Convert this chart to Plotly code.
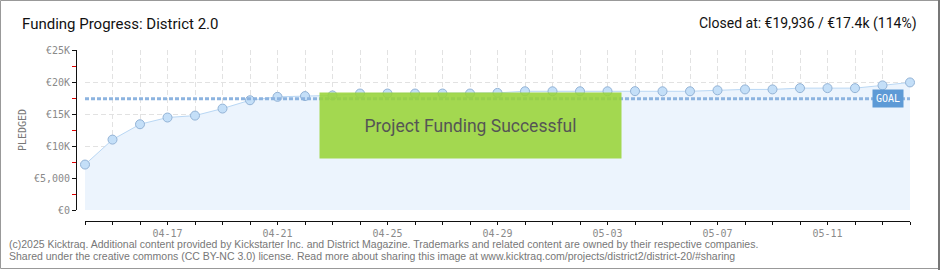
import plotly.graph_objects as go

# ---------------- data ----------------
dates = ["2025-04-14", "2025-04-15", "2025-04-16", "2025-04-17", "2025-04-18",
         "2025-04-19", "2025-04-20", "2025-04-21", "2025-04-22", "2025-04-23",
         "2025-04-24", "2025-04-25", "2025-04-26", "2025-04-27", "2025-04-28",
         "2025-04-29", "2025-04-30", "2025-05-01", "2025-05-02", "2025-05-03",
         "2025-05-04", "2025-05-05", "2025-05-06", "2025-05-07", "2025-05-08",
         "2025-05-09", "2025-05-10", "2025-05-11", "2025-05-12", "2025-05-13",
         "2025-05-14"]
pledged = [7100, 11000, 13400, 14450, 14750, 15850, 17150, 17680, 17800, 17900,
           18200, 18200, 18200, 18200, 18200, 18300, 18550, 18550, 18550, 18550,
           18570, 18550, 18550, 18700, 18840, 18840, 19040, 19040, 19040, 19470,
           19936]
goal = 17400
goal_dates = [dates[0], dates[-1]]
y_tickvals = [0, 5000, 10000, 15000, 20000, 25000]
y_ticktext = ["€0", "€5,000", "€10K", "€15K", "€20K", "€25K"]
x_tick0 = "2025-04-17"

title_left = "Funding Progress: District 2.0"
title_right = "Closed at: €19,936 / €17.4k (114%)"
banner_text = "Project Funding Successful"
footer1 = ("(c)2025 Kicktraq. Additional content provided by Kickstarter Inc. and District Magazine. "
           "Trademarks and related content are owned by their respective companies.")
footer2 = ("Shared under the creative commons (CC BY-NC 3.0) license. Read more about sharing this "
           "image at www.kicktraq.com/projects/district2/district-20/#sharing")

# ---------------- layout geometry ----------------
W, H = 940, 270
ML, MR, MT, MB = 76, 30, 50, 49
PW = W - ML - MR
PH = H - MT - MB

TITLE_FONT = "Roboto, sans-serif"
PIX_FONT = "DejaVu Sans Mono, monospace"

fig = go.Figure()

fig.add_trace(go.Scatter(
    x=dates, y=pledged, mode="lines+markers",
    fill="tozeroy", fillcolor="#ecf4fd",
    line=dict(color="#b9d7f4", width=1),
    marker=dict(size=9, color="#c4dff8", line=dict(color="#93b3d6", width=1)),
    cliponaxis=False, hoverinfo="skip", showlegend=False,
))

fig.add_trace(go.Scatter(
    x=goal_dates, y=[goal, goal], mode="lines",
    line=dict(color="#8db4e0", width=3, dash="4px,2px"),
    hoverinfo="skip", showlegend=False,
))

grid_col = "#e2e2e2"
fig.update_layout(
    width=W, height=H,
    margin=dict(l=ML, r=MR, t=MT, b=MB),
    paper_bgcolor="white", plot_bgcolor="white",
    xaxis=dict(
        type="date",
        range=[dates[0], dates[-1]],
        domain=[9 / PW, 1],
        anchor="free", position=0,
        tick0=x_tick0, dtick=4 * 86400000, tickformat="%m-%d",
        showline=True, linecolor="#111", linewidth=1,
        ticks="outside", ticklen=3, tickcolor="#111",
        tickfont=dict(family=PIX_FONT, size=10, color="#8a8a8a"),
        showgrid=True, gridcolor=grid_col, griddash="5px,3px", gridwidth=1,
        minor=dict(dtick=86400000, tick0=dates[0], ticks="outside", ticklen=3,
                   tickcolor="#111", showgrid=True, gridcolor=grid_col,
                   griddash="5px,3px"),
        zeroline=False,
    ),
    yaxis=dict(
        range=[0, 25000],
        domain=[11 / PH, 1],
        anchor="free", position=0,
        tickvals=y_tickvals, ticktext=y_ticktext,
        showline=True, linecolor="#111", linewidth=1,
        ticks="outside", ticklen=4, tickcolor="#111",
        tickfont=dict(family=PIX_FONT, size=10, color="#8a8a8a"),
        showgrid=True, gridcolor=grid_col, griddash="5px,3px",
        minor=dict(dtick=2500, tick0=0, ticks="outside", ticklen=4,
                   tickcolor="#e00000", showgrid=False),
        zeroline=False,
    ),
)

def px_x(px):
    return (px - ML) / PW

def px_y(py):
    return (H - MB - py) / PH

# Titles
fig.add_annotation(text=title_left, x=px_x(20), y=px_y(24), xref="paper", yref="paper",
                   xanchor="left", yanchor="middle", showarrow=False,
                   font=dict(family=TITLE_FONT, size=15, color="#111"))
fig.add_annotation(text=title_right, x=px_x(919), y=px_y(24), xref="paper", yref="paper",
                   xanchor="right", yanchor="middle", showarrow=False,
                   font=dict(family=TITLE_FONT, size=14, color="#111"))
# Y axis title
fig.add_annotation(text="PLEDGED", x=px_x(22), y=px_y(130), xref="paper", yref="paper",
                   textangle=-90, showarrow=False, xanchor="center", yanchor="middle",
                   font=dict(family=PIX_FONT, size=10, color="#777"))
# Goal tag
fig.add_annotation(text="GOAL", x=dates[-1], y=goal, xref="x", yref="y",
                   xanchor="right", yanchor="middle", xshift=-6, showarrow=False,
                   bgcolor="#5d9ad6", borderpad=3,
                   font=dict(family=PIX_FONT, size=10, color="white"))
# Banner
fig.add_annotation(text=banner_text, x=px_x(470.5), y=px_y(125), xref="paper", yref="paper",
                   xanchor="center", yanchor="middle", showarrow=False,
                   width=301, height=65, borderpad=0,
                   bgcolor="rgba(153,212,56,0.88)",
                   font=dict(family=TITLE_FONT, size=17.5, color="#555"))
# Footer
for i, t in enumerate([footer1, footer2]):
    fig.add_annotation(text=t, x=px_x(7), y=px_y(244 + 12 * i), xref="paper", yref="paper",
                       xanchor="left", yanchor="middle", showarrow=False,
                       font=dict(family="Liberation Sans, Arial, sans-serif", size=10.5, color="#777"))
# Frame
fig.add_shape(type="rect", xref="paper", yref="paper",
              x0=px_x(0.5), x1=px_x(938.5), y0=px_y(268.5), y1=px_y(0.5),
              line=dict(color="#999", width=1), layer="above")
fig.add_shape(type="line", xref="paper", yref="paper",
              x0=px_x(939), x1=px_x(939), y0=px_y(270), y1=px_y(0),
              line=dict(color="#777", width=2), layer="above")

fig.write_html("out.html")
